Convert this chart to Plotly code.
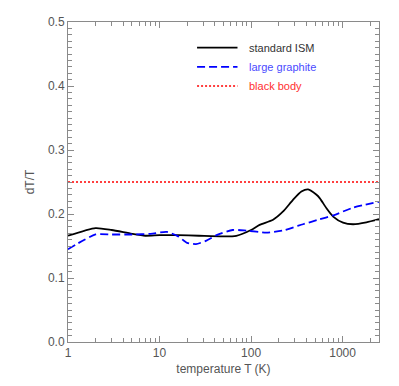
import numpy as np
import plotly.graph_objects as go

# temperature grid (K) and dT/T values
t_ism = [1, 2, 3, 5, 7, 10, 16, 27, 50, 69, 100, 124, 174, 224, 287, 355, 420, 519, 565, 667, 789, 1012,
         1303, 1820, 2500]
dt_ism = [0.166, 0.178, 0.175, 0.169, 0.166, 0.167, 0.167, 0.166, 0.165, 0.166, 0.175, 0.183, 0.191, 0.204,
          0.222, 0.235, 0.2385, 0.230, 0.2245, 0.209, 0.196, 0.1865, 0.184, 0.187, 0.192]

t_graphite = [1, 2, 3, 5, 8, 12, 16, 20, 25, 32, 42, 63, 89, 147, 220, 370, 540, 795, 1310, 2500]
dt_graphite = [0.145, 0.168, 0.168, 0.168, 0.169, 0.172, 0.165, 0.155, 0.153, 0.158, 0.167, 0.175, 0.174,
               0.171, 0.174, 0.184, 0.191, 0.198, 0.210, 0.219]

t_bb = [1, 2500]
dt_bb = [0.25, 0.25]

names = ["standard ISM", "large graphite", "black body"]
colors = ["black", "blue", "red"]
dashes = ["solid", "8px,4px", "2px,2px"]
widths = [1.8, 1.8, 1.5]

AXIS = "#8a8a8a"
TEXT = "#555555"

fig = go.Figure()
for t, v, name, c, d, w in zip([t_ism, t_graphite, t_bb], [dt_ism, dt_graphite, dt_bb],
                               names, colors, dashes, widths):
    fig.add_trace(go.Scatter(x=t, y=v, mode="lines", name=name,
                             line=dict(color=c, dash=d, width=w, shape="spline", smoothing=0.6)))

# hand-made legend, text coloured like the lines
leg_y = [0.92, 0.86, 0.80]
text_colors = ["#333333", "#4a4aff", "#ff3030"]
for name, c, d, w, tc, y in zip(names, colors, dashes, widths, text_colors, leg_y):
    fig.add_shape(type="line", xref="paper", yref="paper", x0=0.415, x1=0.545, y0=y, y1=y,
                  line=dict(color=c, dash=d, width=w))
    fig.add_annotation(xref="paper", yref="paper", x=0.575, y=y, text=name, showarrow=False,
                       xanchor="left", yanchor="middle", font=dict(color=tc, size=11))

fig.update_xaxes(type="log", range=[0, np.log10(2500)], dtick=1, automargin=False,
                 showline=True, linecolor=AXIS, linewidth=1, mirror="allticks",
                 ticks="inside", ticklen=6, tickcolor=AXIS, showgrid=False, zeroline=False,
                 minor=dict(ticks="inside", ticklen=4, tickcolor=AXIS, dtick="D1", showgrid=False),
                 title=dict(text="temperature T (K)", standoff=5, font=dict(size=12, color=TEXT)),
                 tickfont=dict(size=12, color=TEXT))
fig.update_yaxes(range=[0, 0.5], dtick=0.1, tickformat=".1f", automargin=False,
                 showline=True, linecolor=AXIS, linewidth=1, mirror="allticks",
                 ticks="inside", ticklen=6, tickcolor=AXIS, showgrid=False, zeroline=False,
                 minor=dict(ticks="inside", ticklen=4, tickcolor=AXIS, dtick=0.01, showgrid=False),
                 title=dict(text="dT/T", standoff=10, font=dict(size=12, color=TEXT)),
                 tickfont=dict(size=12, color=TEXT))

# page body has an 8px margin, so the figure is shrunk to fit the window
fig.update_layout(width=391, height=378, showlegend=False,
                  margin=dict(l=60, r=20, t=14, b=44),
                  plot_bgcolor="white", paper_bgcolor="white",
                  font=dict(family="Liberation Sans, Arial, sans-serif", color=TEXT))

fig.write_html("out.html")
